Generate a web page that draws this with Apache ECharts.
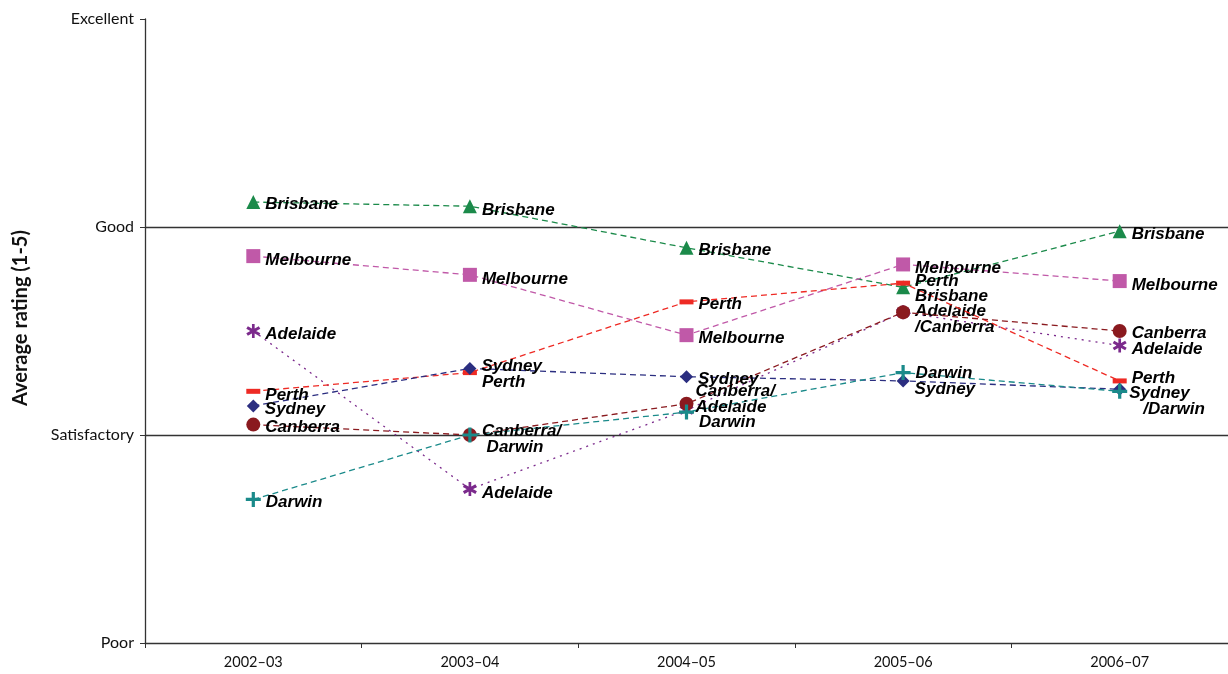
<!DOCTYPE html>
<html>
<head>
<meta charset="utf-8">
<script src="https://cdn.jsdelivr.net/npm/echarts@6/dist/echarts.min.js"></script>
<style>html,body{margin:0;padding:0;background:#fff}#c{width:1228px;height:674px}</style>
</head>
<body>
<div id="c"></div>
<script>
// ---------- DATA ----------
const years = ['2002–03', '2003–04', '2004–05', '2005–06', '2006–07'];
const ratingLabels = { 2: 'Poor', 3: 'Satisfactory', 4: 'Good', 5: 'Excellent' };

const brisbane  = [4.12, 4.10, 3.90, 3.71, 3.98];
const melbourne = [3.86, 3.77, 3.48, 3.82, 3.74];
const adelaide  = [3.50, 2.74, 3.12, 3.59, 3.43];
const perth     = [3.21, 3.30, 3.64, 3.73, 3.26];
const sydney    = [3.14, 3.32, 3.28, 3.26, 3.22];
const canberra  = [3.05, 3.00, 3.15, 3.59, 3.50];
const darwin    = [2.69, 3.00, 3.11, 3.30, 3.21];

const brisbaneText  = ['Brisbane', 'Brisbane', 'Brisbane', 'Brisbane', 'Brisbane'];
const melbourneText = ['Melbourne', 'Melbourne', 'Melbourne', 'Melbourne', 'Melbourne'];
const adelaideText  = ['Adelaide', 'Adelaide', '', 'Adelaide\n/Canberra', 'Adelaide'];
const perthText     = ['Perth', 'Perth', 'Perth', 'Perth', 'Perth'];
const sydneyText    = ['Sydney', 'Sydney', 'Sydney', 'Sydney', 'Sydney\n   /Darwin'];
const canberraText  = ['Canberra', 'Canberra/\n Darwin', 'Canberra/\nAdelaide', '', 'Canberra'];
const darwinText    = ['Darwin', '', 'Darwin', 'Darwin', ''];

// ---------- LAYOUT (label nudges, px) ----------
const labelNudge = {
  Brisbane:  [[0,2],[0,4],[0,3],[0,9],[0,3]],
  Melbourne: [[0,4],[0,4],[0,3],[0,4],[0,4]],
  Adelaide:  [[0,3],[0,4],[0,0],[0,7],[0,4]],
  Perth:     [[0,4],[0,10],[0,2],[0,-2],[0,-3]],
  Sydney:    [[0,3],[0,-2],[0,3],[0,8],[-2,12]],
  Canberra:  [[0,3],[0,4],[-3,-4],[0,0],[0,2]],
  Darwin:    [[0,3],[0,0],[0,10],[0,1],[0,0]]
};

const PLUS = 'path://M-1.5,-7 L-1.5,-1.5 L-7,-1.5 L-7,1.5 L-1.5,1.5 L-1.5,7 L1.5,7 L1.5,1.5 L7,1.5 L7,-1.5 L1.5,-1.5 L1.5,-7 Z';
const STAR = 'path://M-1.3,-7 L-1.3,7 L1.3,7 L1.3,-7 Z M5.3,4.8 L6.8,2.2 L-5.3,-4.8 L-6.8,-2.2 Z M-5.3,4.8 L6.8,-2.2 L5.3,-4.8 L-6.8,2.2 Z';

const defs = [
  { name: 'Brisbane',  vals: brisbane,  text: brisbaneText,  color: '#1b8a4a', symbol: 'triangle', size: 14, dash: [6, 4] },
  { name: 'Melbourne', vals: melbourne, text: melbourneText, color: '#c059a8', symbol: 'rect',     size: 14, dash: [6, 4] },
  { name: 'Perth',     vals: perth,     text: perthText,     color: '#ee2a24', symbol: 'rect',     size: [14, 5], dash: [6, 4] },
  { name: 'Sydney',    vals: sydney,    text: sydneyText,    color: '#2b2e80', symbol: 'diamond',  size: 13, dash: [6, 4] },
  { name: 'Canberra',  vals: canberra,  text: canberraText,  color: '#8a1a1f', symbol: 'circle',   size: 14, dash: [6, 4] },
  { name: 'Darwin',    vals: darwin,    text: darwinText,    color: '#1a8a8a', symbol: PLUS,       size: 15, dash: [6, 4] },
  { name: 'Adelaide',  vals: adelaide,  text: adelaideText,  color: '#7b2a8c', symbol: STAR,       size: 14, dash: [2, 5] }
];

const labelFont = {
  fontFamily: '"Liberation Sans", Arial, sans-serif',
  fontWeight: 'bold', fontStyle: 'italic', fontSize: 17, lineHeight: 16, color: '#000'
};

const series = defs.map(d => ({
  name: d.name,
  type: 'line',
  symbol: d.symbol,
  symbolSize: d.size,
  itemStyle: { color: d.color },
  lineStyle: { color: d.color, width: 1.3, type: d.dash },
  z: d.name === 'Adelaide' ? 1 : 2,
  data: d.vals.map((v, i) => ({
    value: v,
    label: {
      show: d.text[i] !== '',
      position: 'right',
      distance: 5,
      formatter: d.text[i],
      align: 'left',
      offset: labelNudge[d.name][i],
      ...labelFont
    }
  }))
}));

const chart = echarts.init(document.getElementById('c'));
chart.setOption({
  animation: false,
  backgroundColor: '#fff',
  grid: { left: 145, right: 0, top: 19, bottom: 31, containLabel: false },
  xAxis: {
    type: 'category',
    data: years,
    boundaryGap: true,
    axisLine: { lineStyle: { color: '#333', width: 1.3 } },
    axisTick: { show: true, length: 5, lineStyle: { color: '#333' } },
    axisLabel: { fontFamily: 'Lato, sans-serif', fontSize: 14.5, color: '#111', margin: 12 }
  },
  yAxis: {
    type: 'value',
    min: 2, max: 5, interval: 1,
    name: 'Average rating (1-5)',
    nameLocation: 'middle',
    nameGap: 114,
    nameTextStyle: { fontFamily: 'Lato, sans-serif', fontWeight: 'bold', fontSize: 20, color: '#111', padding: [0, 0, 0, 26] },
    axisLine: { show: true, lineStyle: { color: '#333', width: 1.3 } },
    axisTick: { show: true, length: 5, lineStyle: { color: '#333' } },
    axisLabel: { fontFamily: 'Lato, sans-serif', fontSize: 16, color: '#111', margin: 11,
      formatter: v => ratingLabels[v] || '' },
    splitLine: { show: true, lineStyle: { color: ['rgba(0,0,0,0)', '#333', '#333', 'rgba(0,0,0,0)'], width: 1.3 } }
  },
  series: series
});
</script>
</body>
</html>
